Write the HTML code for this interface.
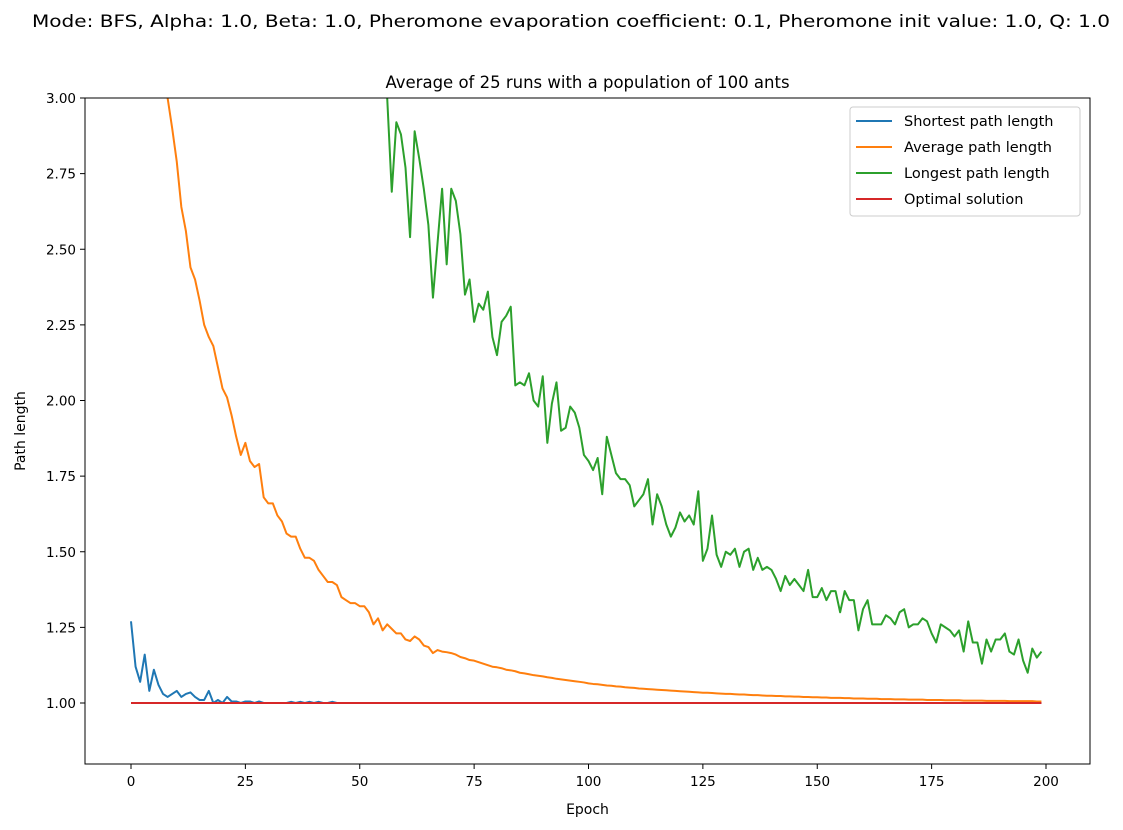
<!DOCTYPE html>
<html><head><meta charset="utf-8"><style>
html,body{margin:0;padding:0;background:#fff;}
svg{display:block;font-family:"DejaVu Sans","Liberation Sans",sans-serif;}
</style></head><body>
<svg id="chart" width="1123" height="830" viewBox="0 0 1123 830" xmlns="http://www.w3.org/2000/svg">
<rect width="1123" height="830" fill="#fff"/>
<text x="571" y="27" font-size="16.5" text-anchor="middle" textLength="1078" lengthAdjust="spacingAndGlyphs">Mode: BFS, Alpha: 1.0, Beta: 1.0, Pheromone evaporation coefficient: 0.1, Pheromone init value: 1.0, Q: 1.0</text>
<text x="587.5" y="88" font-size="16.5" text-anchor="middle">Average of 25 runs with a population of 100 ants</text>
<defs><clipPath id="plotclip"><rect x="85" y="98" width="1005" height="666"/></clipPath></defs>
<g id="series" clip-path="url(#plotclip)"></g>
<rect x="85" y="98" width="1005" height="666" fill="none" stroke="#000" stroke-width="1"/>
<g id="xticks"></g><g id="yticks"></g>
<text x="587.5" y="814" font-size="14" text-anchor="middle">Epoch</text>
<text transform="translate(25,431) rotate(-90)" font-size="14" text-anchor="middle">Path length</text>
<g id="legend"></g>
</svg>
<script>
const xTicks=[0,25,50,75,100,125,150,175,200];
const yTicks=[1.00,1.25,1.50,1.75,2.00,2.25,2.50,2.75,3.00];
const seriesNames=["Shortest path length","Average path length","Longest path length","Optimal solution"];
const seriesColors=["#1f77b4","#ff7f0e","#2ca02c","#d62728"];
const shortest=[1.27,1.12,1.07,1.16,1.04,1.11,1.06,1.03,1.02,1.03,1.04,1.02,1.03,1.035,1.02,1.01,1.01,1.04,1.0,1.01,1.0,1.02,1.005,1.005,1.0,1.005,1.005,1.0,1.005,1.0,1.0,1.0,1.0,1.0,1.0,1.004,1.0,1.004,1.0,1.004,1.0,1.004,1.0,1.0,1.004];
const average=[5.2,4.8,4.4,4.1,3.8,3.6,3.4,3.2,3.0,2.9,2.79,2.64,2.56,2.44,2.40,2.33,2.25,2.21,2.18,2.11,2.04,2.01,1.95,1.88,1.82,1.86,1.80,1.78,1.79,1.68,1.66,1.66,1.62,1.60,1.56,1.55,1.55,1.51,1.48,1.48,1.47,1.44,1.42,1.40,1.40,1.39,1.35,1.34,1.33,1.33,1.32,1.32,1.30,1.26,1.28,1.24,1.26,1.245,1.23,1.23,1.21,1.205,1.22,1.21,1.19,1.185,1.165,1.175,1.17,1.168,1.165,1.16,1.152,1.148,1.142,1.14,1.135,1.13,1.125,1.12,1.118,1.115,1.11,1.108,1.105,1.10,1.098,1.095,1.092,1.09,1.088,1.085,1.083,1.08,1.078,1.076,1.074,1.072,1.07,1.068,1.065,1.063,1.062,1.06,1.058,1.057,1.055,1.054,1.052,1.051,1.05,1.048,1.047,1.046,1.045,1.044,1.043,1.042,1.041,1.04,1.039,1.038,1.037,1.036,1.035,1.034,1.034,1.033,1.032,1.031,1.03,1.03,1.029,1.028,1.028,1.027,1.026,1.026,1.025,1.024,1.024,1.023,1.023,1.022,1.022,1.021,1.021,1.02,1.02,1.019,1.019,1.018,1.018,1.017,1.017,1.017,1.016,1.016,1.015,1.015,1.015,1.014,1.014,1.014,1.013,1.013,1.013,1.012,1.012,1.012,1.011,1.011,1.011,1.011,1.01,1.01,1.01,1.01,1.009,1.009,1.009,1.009,1.008,1.008,1.008,1.008,1.008,1.007,1.007,1.007,1.007,1.007,1.006,1.006,1.006,1.006,1.006,1.006,1.005,1.005,1.005,1.005,1.005];
const longest=[6.0,5.9,5.8,5.7,5.65,5.6,5.5,5.4,5.35,5.3,5.2,5.1,5.05,5.0,4.9,4.85,4.8,4.7,4.65,4.6,4.5,4.45,4.4,4.3,4.25,4.2,4.15,4.1,4.0,3.95,3.9,3.85,3.8,3.75,3.7,3.65,3.6,3.55,3.5,3.5,3.45,3.4,3.4,3.35,3.35,3.3,3.3,3.25,3.25,3.2,3.2,3.15,3.15,3.1,3.1,3.05,3.0,2.69,2.92,2.88,2.77,2.54,2.89,2.80,2.70,2.58,2.34,2.52,2.70,2.45,2.70,2.66,2.55,2.35,2.40,2.26,2.32,2.30,2.36,2.21,2.15,2.26,2.28,2.31,2.05,2.06,2.05,2.09,2.00,1.98,2.08,1.86,1.99,2.06,1.90,1.91,1.98,1.96,1.91,1.82,1.80,1.77,1.81,1.69,1.88,1.82,1.76,1.74,1.74,1.72,1.65,1.67,1.69,1.74,1.59,1.69,1.65,1.59,1.55,1.58,1.63,1.60,1.62,1.59,1.70,1.47,1.51,1.62,1.49,1.45,1.50,1.49,1.51,1.45,1.50,1.51,1.44,1.48,1.44,1.45,1.44,1.41,1.37,1.42,1.39,1.41,1.39,1.37,1.44,1.35,1.35,1.38,1.34,1.37,1.37,1.30,1.37,1.34,1.34,1.24,1.31,1.34,1.26,1.26,1.26,1.29,1.28,1.26,1.30,1.31,1.25,1.26,1.26,1.28,1.27,1.23,1.20,1.26,1.25,1.24,1.22,1.24,1.17,1.27,1.20,1.20,1.13,1.21,1.17,1.21,1.21,1.23,1.17,1.16,1.21,1.14,1.10,1.18,1.15,1.17];
const optimalValue=1.0;
const nEpochs=200;

const NS="http://www.w3.org/2000/svg";
const X0=131,X1=1046,Y1=703,Y3=98;
function xs(v){return X0+(v-0)*(X1-X0)/200;}
function ys(v){return Y1-(v-1)*(Y1-Y3)/2;}
function el(t,a,p){const e=document.createElementNS(NS,t);for(const k in a)e.setAttribute(k,a[k]);p.appendChild(e);return e;}
const svg=document.getElementById('chart');
const gS=document.getElementById('series');
function full(arr,fill){const out=[];for(let i=0;i<nEpochs;i++)out.push(i<arr.length?arr[i]:fill);return out;}
const data=[full(shortest,1.0),full(average,1.005),full(longest,1.17),full([],optimalValue)];
data.forEach((arr,s)=>{
  const pts=arr.map((v,i)=>xs(i).toFixed(2)+','+ys(v).toFixed(2)).join(' ');
  const pl=el('polyline',{points:pts,fill:'none',stroke:seriesColors[s],'stroke-width':2,'stroke-linejoin':'round'},gS);
  
  
});
const gx=document.getElementById('xticks');
xTicks.forEach(t=>{
  const ln=el('line',{x1:xs(t),x2:xs(t),y1:764,y2:769,stroke:'#000','stroke-width':1},gx);
  
  
  const tx=el('text',{x:xs(t),y:786,'font-size':13.5,'text-anchor':'middle'},gx);
  tx.textContent=t;
  
  
});
const gy=document.getElementById('yticks');
yTicks.forEach(t=>{
  const ln=el('line',{x1:80,x2:85,y1:ys(t),y2:ys(t),stroke:'#000','stroke-width':1},gy);
  
  
  const tx=el('text',{x:76,y:ys(t)+5,'font-size':13.5,'text-anchor':'end'},gy);
  tx.textContent=t.toFixed(2);
  
  
});
const gl=document.getElementById('legend');
el('rect',{x:850,y:107,width:230,height:109,rx:3,fill:'#fff','fill-opacity':0.8,stroke:'#ccc'},gl);
seriesNames.forEach((n,i)=>{
  const y=121+i*26;
  const ln=el('line',{x1:856,x2:892,y1:y,y2:y,stroke:seriesColors[i],'stroke-width':2},gl);
  
  
  const tx=el('text',{x:904,y:y+5,'font-size':14.5},gl);
  tx.textContent=n;
  
  
});
</script>
</body></html>
